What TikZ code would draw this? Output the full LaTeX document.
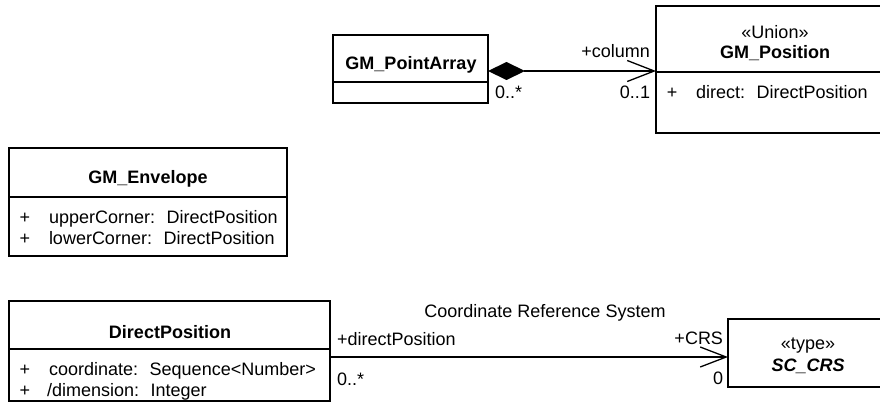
\documentclass[tikz,border=0pt]{standalone}
\usepackage{fontspec}
\setmainfont{Liberation Sans}
\usetikzlibrary{arrows.meta}

\begin{document}
\begin{tikzpicture}[x=1pt, y=-1pt,
  every node/.style={inner sep=0pt, outer sep=0pt},
  txt/.style={font=\fontsize{18}{21}\selectfont},
  ttl/.style={font=\bfseries\fontsize{18}{21}\selectfont},
  ttlit/.style={font=\bfseries\itshape\fontsize{18}{21}\selectfont},
  umlbox/.style={draw, line width=1.3pt, rectangle, anchor=north west},
  sepline/.style={line width=1.3pt},
  conn/.style={line width=1.3pt},
  composition/.style={conn, {Diamond[length=37pt,width=18pt]}-{Straight Barb[length=27pt,width=21pt,line width=1.3pt]}},
  navigable/.style={conn, -{Straight Barb[length=26pt,width=20pt,line width=1.3pt]}}
]
\useasboundingbox (0,0) rectangle (880,412);
\fill[white] (0,0) rectangle (880,412);
\clip (0,0) rectangle (880,412);

% ---------- class boxes ----------
\node[umlbox, minimum width=155, minimum height=68] (pa)   at (333,35)  {};
\node[umlbox, minimum width=238, minimum height=127] (pos) at (656,6)   {};
\node[umlbox, minimum width=278, minimum height=108] (env) at (9,148)   {};
\node[umlbox, minimum width=321, minimum height=100] (dp)  at (9,301)   {};
\node[umlbox, minimum width=160, minimum height=68] (crs)  at (728,319) {};

% compartment dividers
\coordinate (paSep)  at (0,82);
\coordinate (posSep) at (0,72);
\coordinate (envSep) at (0,197);
\coordinate (dpSep)  at (0,349);
\draw[sepline] (pa.west  |- paSep)  -- (pa.east  |- paSep);
\draw[sepline] (pos.west |- posSep) -- (pos.east |- posSep);
\draw[sepline] (env.west |- envSep) -- (env.east |- envSep);
\draw[sepline] (dp.west  |- dpSep)  -- (dp.east  |- dpSep);

% ---------- class texts ----------
\node[ttl, anchor=base] (paName) at (411,69.5) {GM\_PointArray};

\node[txt, anchor=base] (posStereo) at (775,38) {«Union»};
\node[ttl, anchor=base] (posName)   at (775,59) {GM\_Position};
\node[txt, anchor=base] (posPlus)   at (672,98) {+};
\node[txt, anchor=base west] (posAttr) at (696,98) {direct: \ DirectPosition};

\node[ttl, anchor=base] (envName) at (148,183) {GM\_Envelope};
\node[txt, anchor=base] (envPlusA) at (25,223) {+};
\node[txt, anchor=base west] (envAttrA) at (49,223) {upperCorner: \ DirectPosition};
\node[txt, anchor=base] (envPlusB) at (25,244) {+};
\node[txt, anchor=base west] (envAttrB) at (49,244) {lowerCorner: \ DirectPosition};

\node[ttl, anchor=base] (dpName) at (170,338) {DirectPosition};
\node[txt, anchor=base] (dpPlusA) at (25,375) {+};
\node[txt, anchor=base west] (dpAttrA) at (49,375) {coordinate: \ Sequence<Number>};
\node[txt, anchor=base] (dpPlusB) at (25,396) {+};
\node[txt, anchor=base west] (dpAttrB) at (47,396) {/dimension: \ Integer};

\node[txt, anchor=base]  (crsStereo) at (808,349) {«type»};
\node[ttlit, anchor=base] (crsName)  at (808,371) {SC\_CRS};

% ---------- connectors ----------
\coordinate (compY)  at (0,71);
\coordinate (assocY) at (0,357);
\draw[composition] (pa.east |- compY) -- (pos.west |- compY);
\draw[navigable]   (dp.east |- assocY) -- (crs.west |- assocY);

% ---------- connector labels ----------
\node[txt, anchor=base east] (lblColumn) at (650,57) {+column};
\node[txt, anchor=base east] (lblPosMul) at (650,98) {0..1};
\node[txt, anchor=base west] (lblPaMul)  at (495,98) {0..*};

\node[txt, anchor=base] (lblAssoc) at (545,317) {Coordinate Reference System};
\node[txt, anchor=base west] (lblDpRole) at (337,345) {+directPosition};
\node[txt, anchor=base west] (lblDpMul)  at (337,385) {0..*};
\node[txt, anchor=base east] (lblCrsRole) at (723,344) {+CRS};
\node[txt, anchor=base east] (lblCrsMul)  at (723,384) {0};
\end{tikzpicture}
\end{document}
